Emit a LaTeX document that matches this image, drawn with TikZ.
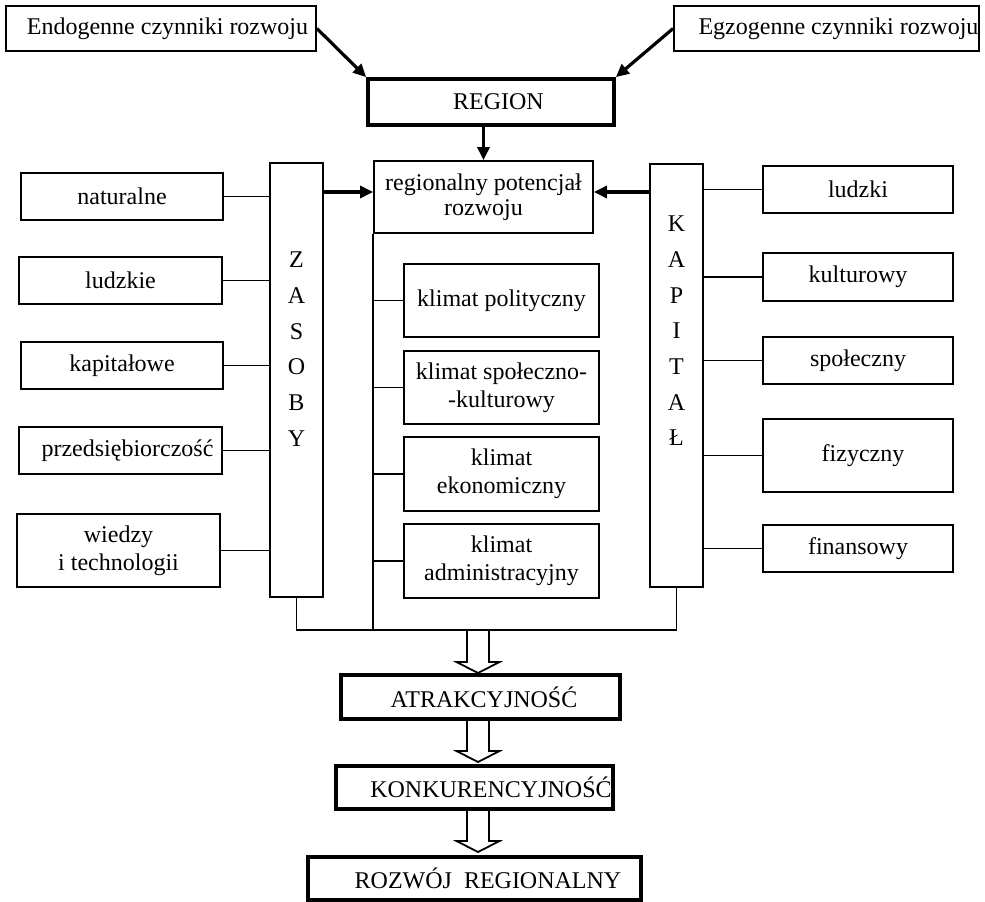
\documentclass[tikz,border=0pt]{standalone}
\usepackage{fontspec}
\setmainfont{Liberation Serif}
\usetikzlibrary{arrows.meta,calc}
\newcommand\blkarrowx[3]{\draw[blockarrow] (#1-11,#2) -- (#1-11,#3-11) -- (#1-21.5,#3-11) -- (#1,#3) -- (#1+21.5,#3-11) -- (#1+11,#3-11) -- (#1+11,#2);}
\begin{document}
\begin{tikzpicture}[x=1pt,y=-1pt,
  font=\fontsize{24}{28}\selectfont,
  box/.style={draw, line width=1.8pt, inner sep=0pt, align=center},
  thickbox/.style={draw, line width=3.8pt, inner sep=0pt, align=center},
  conn/.style={line width=1.8pt},
  arr/.style={line width=3.2pt, -{Triangle[length=13pt,width=12pt]}},
  blockarrow/.style={line width=1.8pt, line join=miter}]
\useasboundingbox (0,0) rectangle (985,902);

% top
\node[box, minimum width=310, minimum height=45] (endo) at (161,28.5) {\hspace*{13pt}Endogenne czynniki rozwoju};
\node[box, minimum width=305, minimum height=45] (egzo) at (826.5,28.5) {\hspace*{24pt}Egzogenne czynniki rozwoju};
\node[thickbox, minimum width=246, minimum height=46] (region) at (491,102) {\hspace*{15pt}REGION};

\draw[arr] (endo.east) -- (region.north west);
\draw[arr] (egzo.west) -- (region.north east);

% centre
\node[box, minimum width=219, minimum height=72, font=\fontsize{24}{25}\selectfont] (pot) at (483.5,197) {regionalny potencjał\\rozwoju};
\draw[arr] (pot.north |- region.south) -- (pot.north);

% columns
\node[box, minimum width=53, minimum height=434,
  label={[align=center, font=\fontsize{24}{35.7}\selectfont, yshift=31pt]center:Z\\A\\S\\O\\B\\Y}] (zas) at (296.5,380) {};
\node[box, minimum width=53, minimum height=423,
  label={[align=center, font=\fontsize{24}{35.7}\selectfont, yshift=44.5pt]center:K\\A\\P\\I\\T\\A\\Ł}] (kap) at (676.5,375.5) {};

\coordinate (ya) at (0,192);
\draw[arr] (zas.east |- ya) -- (pot.west |- ya);
\draw[arr] (kap.west |- ya) -- (pot.east |- ya);

% left boxes
\node[box, minimum width=202, minimum height=47] (nat) at (122,196.5) {naturalne};
\node[box, minimum width=203, minimum height=47] (lud) at (120.5,280.5) {ludzkie};
\node[box, minimum width=202, minimum height=47] (kapw) at (122,365.5) {kapitałowe};
\node[box, minimum width=203, minimum height=47] (prz) at (120.5,450.5) {\hspace*{14pt}przedsiębiorczość};
\node[box, minimum width=203, minimum height=73] (wie) at (118.5,550.5) {wiedzy\\i technologii};

\foreach \n in {nat,lud,kapw,prz,wie}
  \draw[conn] (\n.east) -- (\n.east -| zas.west);

% right boxes
\node[box, minimum width=190, minimum height=47] (ludzki) at (858,189.5) {ludzki};
\node[box, minimum width=190, minimum height=48] (kult) at (858,277) {kulturowy};
\node[box, minimum width=190, minimum height=47] (spol) at (858,360.5) {społeczny};
\node[box, minimum width=190, minimum height=73] (fiz) at (858,455.5) {\hspace*{10pt}fizyczny};
\node[box, minimum width=190, minimum height=47] (fin) at (858,548.5) {finansowy};

\foreach \n in {ludzki,kult,spol,fiz,fin}
  \draw[conn] (\n.west -| kap.east) -- (\n.west);

% klimat boxes
\node[box, minimum width=195, minimum height=73] (kp) at (501.5,300.5) {klimat polityczny};
\node[box, minimum width=195, minimum height=73] (ks) at (501.5,387.5) {klimat społeczno-\\-kulturowy};
\node[box, minimum width=195, minimum height=74] (ke) at (501.5,474) {klimat\\ekonomiczny};
\node[box, minimum width=195, minimum height=74] (ka) at (501.5,561) {klimat\\administracyjny};

\coordinate (bus) at (478,630);
\draw[conn] (pot.south west) -- (pot.south west |- bus);
\foreach \n in {kp,ks,ke,ka}
  \draw[conn] (\n.west -| pot.south west) -- (\n.west);

\draw[conn] (zas.south) -- (zas.south |- bus) -- (kap.south |- bus) -- (kap.south);

% bottom chain
\node[thickbox, minimum width=279, minimum height=44] (atr) at (480.5,697) {\hspace*{7pt}ATRAKCYJNOŚĆ};
\node[thickbox, minimum width=277, minimum height=43] (kon) at (474.5,787.5) {\hspace*{33pt}KONKURENCYJNOŚĆ};
\node[thickbox, minimum width=333, minimum height=43] (roz) at (474.5,878.5) {\hspace*{27pt}ROZWÓJ\ \ REGIONALNY};

\blkarrowx{478}{630}{673}
\blkarrowx{478}{719}{762}
\blkarrowx{478}{809}{852}
\end{tikzpicture}
\end{document}
